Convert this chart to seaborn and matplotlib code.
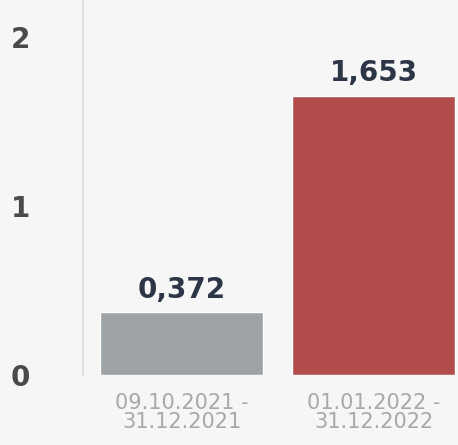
import pandas as pd
import matplotlib
matplotlib.use("Agg")
import matplotlib.pyplot as plt
import seaborn as sns

# data
periods = ["09.10.2021 -\n31.12.2021", "01.01.2022 -\n31.12.2022"]
values = [0.372, 1.653]
value_labels = ["0,372", "1,653"]
bar_colors = ["#9da3a7", "#b24c4b"]
y_ticks = [0, 1, 2]

df = pd.DataFrame({"period": periods, "value": values})

sns.set_style("white")
plt.rcParams["font.family"] = ["DejaVu Sans"]

fig = plt.figure(figsize=(4.58, 4.45), dpi=100, facecolor="#f6f6f6")
ax = fig.add_axes([0.181, 0.157, 0.819, 0.843])
ax.set_facecolor("#f6f6f6")

sns.barplot(data=df, x="period", y="value", hue="period", palette=bar_colors,
            width=0.85, legend=False, ax=ax, saturation=1)

for i, (v, lab) in enumerate(zip(values, value_labels)):
    ax.text(i, v + 0.05, lab, ha="center", va="bottom", fontsize=20,
            fontweight="bold", color="#2d3646")

ax.set_xlim(-0.514, 1.44)
ax.set_ylim(0, 2.22)
ax.set_yticks(y_ticks)
ax.set_yticklabels([str(t) for t in y_ticks], fontsize=20, fontweight="bold",
                   color="#4a4a4a")
ax.tick_params(axis="y", length=0, pad=38)
ax.tick_params(axis="x", length=0, pad=13, labelsize=15, labelcolor="#a8a8a8")
for t in ax.get_xticklabels():
    t.set_linespacing(0.95)
ax.set_xlabel("")
ax.set_ylabel("")

for s in ["top", "right", "bottom"]:
    ax.spines[s].set_visible(False)
ax.spines["left"].set_color("#dadada")
ax.spines["left"].set_linewidth(1.2)

fig.savefig("out.png", dpi=100, facecolor=fig.get_facecolor())
